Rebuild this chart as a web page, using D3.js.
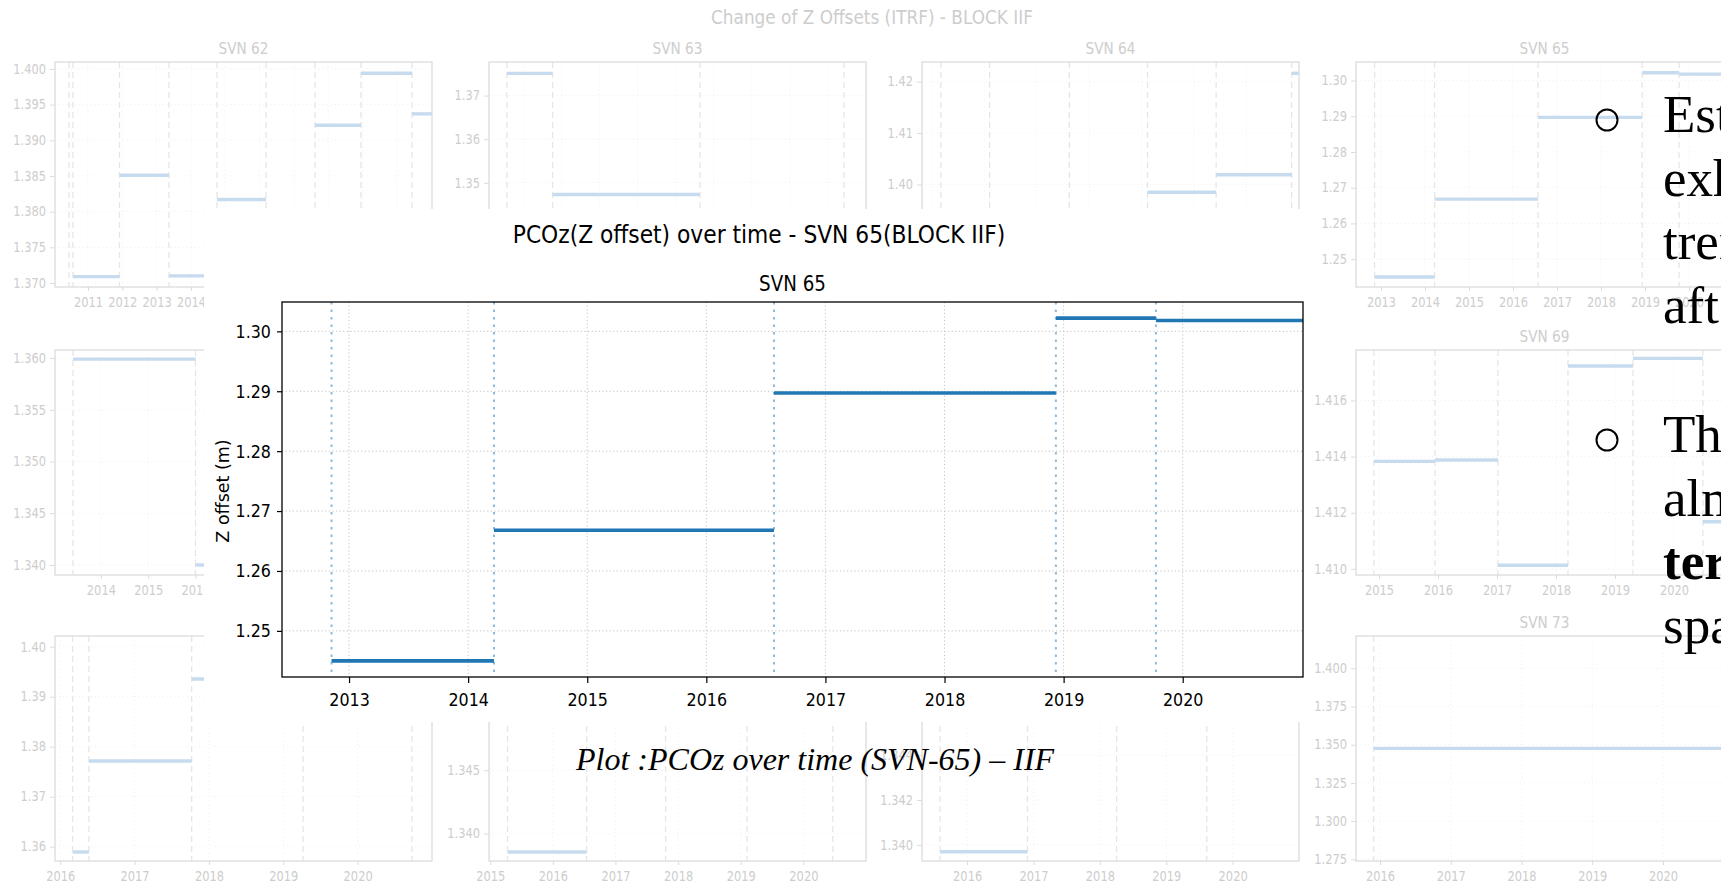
<!DOCTYPE html>
<html>
<head>
<meta charset="utf-8">
<script src="https://cdn.jsdelivr.net/npm/d3@7/dist/d3.min.js"></script>
<style>
  body { margin: 0; background: #fff; overflow: hidden; }
  svg { display: block; }
</style>
</head>
<body>
<svg id="svg" width="1721" height="892"></svg>
<script>
// ---- SVN 65, the enlarged chart (decimal years / metres) ----
const svn65Start = [2012.853, 2014.217, 2016.568, 2018.935, 2019.775];
const svn65End   = [2014.217, 2016.568, 2018.935, 2019.775, 2021.3];
const svn65Value = [1.2450, 1.2668, 1.2897, 1.3022, 1.3018];
const mainYTicks = [1.25, 1.26, 1.27, 1.28, 1.29, 1.30];
const mainXDomain = [2012.437, 2021.01];
const mainYDomain = [1.2423, 1.3049];

// ---- faded grid of the whole block: [start, end, value] ----
const svn62Segments = [[2010.563, 2011.918, 1.3709], [2011.918, 2013.359, 1.3851], [2013.359, 2014.758, 1.3710],
  [2014.758, 2016.185, 1.3817], [2017.612, 2018.952, 1.3921], [2018.952, 2020.438, 1.3994], [2020.438, 2021.3, 1.3937]];
const svn62Breaks = [2010.45, 2010.563, 2011.918, 2013.359, 2014.758, 2016.185, 2017.612, 2018.952, 2020.438];
const svn63Segments = [[2011.57, 2012.77, 1.3751], [2012.77, 2016.64, 1.3473]];
const svn63Breaks = [2011.57, 2012.77, 2016.64, 2020.42];
const svn64Segments = [[2018.11, 2019.42, 1.3985], [2019.42, 2020.86, 1.4019], [2020.86, 2021.3, 1.4216]];
const svn64Breaks = [2014.17, 2015.10, 2016.62, 2018.11, 2019.42, 2020.86];
const svn66Segments = [[2013.41, 2016.00, 1.3599], [2016.00, 2016.60, 1.3400]];
const svn66Breaks = [2013.41, 2016.00];
const svn69Segments = [[2014.915, 2015.949, 1.41383], [2015.949, 2017.017, 1.41388], [2017.017, 2018.203, 1.41013],
  [2018.203, 2019.305, 1.41723], [2019.305, 2020.49, 1.41750], [2020.49, 2021.3, 1.41168]];
const svn69Breaks = [2014.915, 2015.949, 2017.017, 2018.203, 2019.305, 2020.49];
const svn70Segments = [[2016.167, 2016.386, 1.35893], [2016.386, 2017.768, 1.37713], [2017.768, 2019.267, 1.39356]];
const svn70Breaks = [2016.167, 2016.386, 2017.768, 2019.267, 2020.73];
const svn71Segments = [[2015.276, 2016.539, 1.33855]];
const svn71Breaks = [2015.276, 2016.539, 2017.80, 2019.10, 2020.47];
const svn72Segments = [[2015.593, 2016.909, 1.33969]];
const svn72Breaks = [2015.593, 2016.909, 2018.252, 2019.611];
const svn73Segments = [[2015.91, 2021.3, 1.34762]];
const svn73Breaks = [2015.91];

const panelNames = ['SVN 62', 'SVN 63', 'SVN 64', 'SVN 65', 'SVN 66', 'SVN 69', 'SVN 70', 'SVN 71', 'SVN 72', 'SVN 73'];
const panelXDomains = [[2010.04, 2021.02], [2011.10, 2021.0], [2013.81, 2021.0], [2012.43, 2021.0], [2013.03, 2021.0],
  [2014.61, 2021.0], [2015.93, 2021.0], [2014.98, 2021.0], [2015.32, 2021.0], [2015.66, 2020.99]];
const panelYDomains = [[1.36944, 1.40097], [1.3261, 1.3777], [1.3801, 1.4238], [1.2422, 1.3052], [1.33903, 1.36078],
  [1.40978, 1.41780], [1.35713, 1.40215], [1.33784, 1.35558], [1.33928, 1.34931], [1.27388, 1.42114]];
const panelYTicks = [
  [1.370, 1.375, 1.380, 1.385, 1.390, 1.395, 1.400],
  [1.33, 1.34, 1.35, 1.36, 1.37],
  [1.38, 1.39, 1.40, 1.41, 1.42],
  [1.25, 1.26, 1.27, 1.28, 1.29, 1.30],
  [1.340, 1.345, 1.350, 1.355, 1.360],
  [1.410, 1.412, 1.414, 1.416],
  [1.36, 1.37, 1.38, 1.39, 1.40],
  [1.340, 1.345, 1.350, 1.355],
  [1.340, 1.342, 1.344, 1.346, 1.348],
  [1.275, 1.300, 1.325, 1.350, 1.375, 1.400]
];
const panelDigits = [3, 2, 2, 2, 3, 3, 2, 3, 3, 3];
// grid cell of each panel, 4 columns x 3 rows (SVN 67 / 68 sit fully under the big chart)
const panelCells = [[0, 0], [1, 0], [2, 0], [3, 0], [0, 1], [3, 1], [0, 2], [1, 2], [2, 2], [3, 2]];

const svn65Segments = svn65Start.map((s, i) => [s, svn65End[i], svn65Value[i]]);
const panelSegments = [svn62Segments, svn63Segments, svn64Segments, svn65Segments, svn66Segments,
  svn69Segments, svn70Segments, svn71Segments, svn72Segments, svn73Segments];
const panelBreaks = [svn62Breaks, svn63Breaks, svn64Breaks, svn65Start, svn66Breaks,
  svn69Breaks, svn70Breaks, svn71Breaks, svn72Breaks, svn73Breaks];

const bullets = [
  [['Estimated offsets'], ['exhibit a stepwise'], ['trend, changing'], ['after each update']],
  [['The values stay'], ['almost constant in'], [['terms', true], [' of long']], ['spans of time.']]
];

const svg = d3.select('#svg');
const colLeft = [55, 489, 922, 1356];
const rowTop = [62, 350, 636];
const panelW = 377, panelH = 225;
const SQ = 0.86; // the pasted plot images are stretched vertically

const faint = { text: '#cdcdcd', frame: '#dcdcdc', line: '#c6dbee', grid: '#f0f0f0', brk: '#e6e6e6' };

svg.append('text')
  .attr('transform', `translate(872,24) scale(0.845,1)`)
  .attr('text-anchor', 'middle')
  .attr('font-family', 'DejaVu Sans')
  .attr('font-size', 20)
  .attr('fill', faint.text)
  .text('Change of Z Offsets (ITRF) - BLOCK IIF');

function drawPanel(i) {
  const [c, r] = panelCells[i];
  const xd = panelXDomains[i], yd = panelYDomains[i];
  const g = svg.append('g').attr('transform', `translate(${colLeft[c]},${rowTop[r]})`);
  const x = d3.scaleLinear().domain(xd).range([0, panelW]);
  const y = d3.scaleLinear().domain(yd).range([panelH, 0]);
  const years = d3.range(Math.ceil(xd[0]), Math.floor(xd[1] - 0.05) + 1);
  const yTicks = panelYTicks[i].filter(v => v >= yd[0] && v <= yd[1]);

  g.append('g').selectAll('line').data(years).join('line')
    .attr('x1', d => x(d)).attr('x2', d => x(d)).attr('y1', 0).attr('y2', panelH)
    .attr('stroke', faint.grid).attr('stroke-dasharray', '1,3');
  g.append('g').selectAll('line').data(yTicks).join('line')
    .attr('x1', 0).attr('x2', panelW).attr('y1', d => y(d)).attr('y2', d => y(d))
    .attr('stroke', faint.grid).attr('stroke-dasharray', '1,3');

  g.append('g').selectAll('line').data(panelBreaks[i]).join('line')
    .attr('x1', d => x(d)).attr('x2', d => x(d)).attr('y1', 0).attr('y2', panelH)
    .attr('stroke', faint.brk).attr('stroke-width', 1.3).attr('stroke-dasharray', '6,4');

  const clipId = 'clip' + i;
  g.append('clipPath').attr('id', clipId).append('rect').attr('width', panelW).attr('height', panelH);
  g.append('g').attr('clip-path', `url(#${clipId})`)
    .selectAll('line').data(panelSegments[i]).join('line')
    .attr('x1', d => x(d[0])).attr('x2', d => x(d[1]))
    .attr('y1', d => y(d[2])).attr('y2', d => y(d[2]))
    .attr('stroke', faint.line).attr('stroke-width', 3.4);

  g.append('rect').attr('width', panelW).attr('height', panelH)
    .attr('fill', 'none').attr('stroke', faint.frame).attr('stroke-width', 1.3);

  const ax = g.append('g').attr('transform', `translate(0,${panelH})`)
    .call(d3.axisBottom(x).tickValues(years).tickFormat(d3.format('d')).tickSize(4).tickPadding(7));
  const ay = g.append('g')
    .call(d3.axisLeft(y).tickValues(yTicks).tickFormat(d3.format(`.${panelDigits[i]}f`)).tickSize(5).tickPadding(4));
  [ax, ay].forEach(a => {
    a.select('.domain').remove();
    a.selectAll('line').attr('stroke', faint.frame);
    a.selectAll('text').attr('fill', faint.text).attr('font-size', 13.3).attr('font-family', 'DejaVu Sans')
      .attr('transform', `scale(${SQ},1)`);
  });
  ay.selectAll('text').attr('x', -9 / SQ);

  g.append('text')
    .attr('transform', `translate(${panelW / 2},-8) scale(0.88,1)`)
    .attr('text-anchor', 'middle')
    .attr('font-family', 'DejaVu Sans').attr('font-size', 15.5)
    .attr('fill', faint.text)
    .text(panelNames[i]);
}

panelNames.forEach((n, i) => drawPanel(i));

// ---- the enlarged SVN 65 figure pasted over the grid ----
svg.append('rect').attr('x', 204).attr('y', 209).attr('width', 1102).attr('height', 513).attr('fill', '#fff');

const m = { left: 282, top: 302, width: 1021, height: 375 };
const main = svg.append('g').attr('transform', `translate(${m.left},${m.top})`);
const x = d3.scaleLinear().domain(mainXDomain).range([0, m.width]);
const y = d3.scaleLinear().domain(mainYDomain).range([m.height, 0]);
const mainYears = d3.range(Math.ceil(mainXDomain[0]), Math.floor(mainXDomain[1] - 0.05) + 1);

main.append('g').selectAll('line').data(mainYears).join('line')
  .attr('x1', d => x(d)).attr('x2', d => x(d)).attr('y1', 0).attr('y2', m.height)
  .attr('stroke', '#c4c4c4').attr('stroke-width', 1).attr('stroke-dasharray', '1.2,2.4');
main.append('g').selectAll('line').data(mainYTicks).join('line')
  .attr('x1', 0).attr('x2', m.width).attr('y1', d => y(d)).attr('y2', d => y(d))
  .attr('stroke', '#c4c4c4').attr('stroke-width', 1).attr('stroke-dasharray', '1.2,2.4');

main.append('g').selectAll('line').data(svn65Start).join('line')
  .attr('x1', d => x(d)).attr('x2', d => x(d)).attr('y1', 0).attr('y2', m.height)
  .attr('stroke', '#1f77b4').attr('stroke-opacity', 0.5).attr('stroke-width', 2)
  .attr('stroke-dasharray', '2.5,5');

svg.append('clipPath').attr('id', 'mainClip').append('rect').attr('width', m.width).attr('height', m.height);
main.append('g').attr('clip-path', 'url(#mainClip)')
  .selectAll('line').data(svn65Segments).join('line')
  .attr('x1', d => x(d[0])).attr('x2', d => x(d[1]))
  .attr('y1', d => y(d[2])).attr('y2', d => y(d[2]))
  .attr('stroke', '#1f77b4').attr('stroke-width', 3.6);

main.append('rect').attr('width', m.width).attr('height', m.height)
  .attr('fill', 'none').attr('stroke', '#000').attr('stroke-width', 1.3);

const mx = main.append('g').attr('transform', `translate(0,${m.height})`)
  .call(d3.axisBottom(x).tickValues(mainYears).tickFormat(d3.format('d')).tickSize(6).tickPadding(10));
const my = main.append('g')
  .call(d3.axisLeft(y).tickValues(mainYTicks).tickFormat(d3.format('.2f')).tickSize(5).tickPadding(6));
[mx, my].forEach(a => {
  a.select('.domain').remove();
  a.selectAll('line').attr('stroke', '#000').attr('stroke-width', 1.2);
  a.selectAll('text').attr('fill', '#000').attr('font-size', 18.5).attr('font-family', 'DejaVu Sans')
    .attr('transform', `scale(${SQ},1)`);
});
my.selectAll('text').attr('x', -11 / SQ);

svg.append('text')
  .attr('transform', 'translate(229,491) rotate(-90)')
  .attr('text-anchor', 'middle')
  .attr('font-family', 'DejaVu Sans').attr('font-size', 17.5)
  .text('Z offset (m)');

svg.append('text')
  .attr('transform', `translate(${m.left + m.width / 2},291) scale(0.87,1)`)
  .attr('text-anchor', 'middle')
  .attr('font-family', 'DejaVu Sans').attr('font-size', 21)
  .text('SVN 65');

svg.append('text')
  .attr('transform', 'translate(759,243) scale(0.9,1)')
  .attr('text-anchor', 'middle')
  .attr('font-family', 'DejaVu Sans').attr('font-size', 24.2)
  .text('PCOz(Z offset) over time - SVN 65(BLOCK IIF)');

// ---- slide caption and bullet text ----
svg.append('text')
  .attr('x', 576).attr('y', 770)
  .attr('font-family', 'Liberation Serif').attr('font-style', 'italic').attr('font-size', 32)
  .text('Plot :PCOz over time (SVN-65) \u2013 IIF');

const bulletTop = [132, 452];
bullets.forEach((lines, b) => {
  svg.append('circle')
    .attr('cx', 1607).attr('cy', bulletTop[b] - 12).attr('r', 10.5)
    .attr('fill', 'none').attr('stroke', '#000').attr('stroke-width', 2);
  lines.forEach((parts, li) => {
    const t = svg.append('text')
      .attr('x', 1663).attr('y', bulletTop[b] + li * 63.7)
      .attr('font-family', 'Liberation Serif').attr('font-size', 53).attr('fill', '#000');
    parts.forEach(p => {
      const [txt, bold] = Array.isArray(p) ? p : [p, false];
      t.append('tspan').attr('font-weight', bold ? 'bold' : 'normal').text(txt);
    });
  });
});
</script>
</body>
</html>
